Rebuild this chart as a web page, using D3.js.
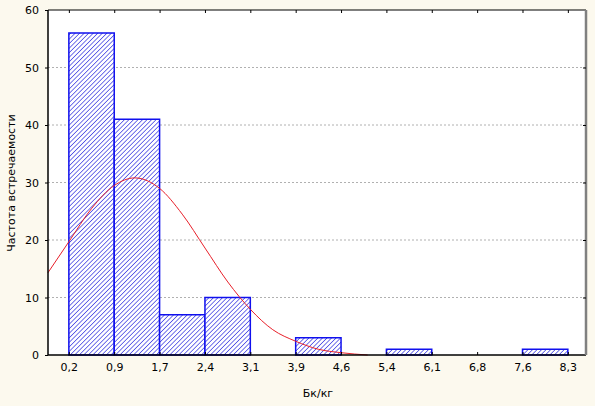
<!DOCTYPE html>
<html>
<head>
<meta charset="utf-8">
<script src="https://cdn.jsdelivr.net/npm/d3@7"></script>
<style>
  body { margin: 0; background: #fcf9ee; }
  text { font-family: "DejaVu Sans", sans-serif; font-size: 11px; fill: #000; }
</style>
</head>
<body>
<div id="chart"></div>
<script>
// bin edge labels (as printed on the x axis)
const edgeLabels = ["0,2", "0,9", "1,7", "2,4", "3,1", "3,9", "4,6", "5,4", "6,1", "6,8", "7,6", "8,3"];
// counts per bin (between consecutive edges)
const counts = [56, 41, 7, 10, 0, 3, 0, 1, 0, 0, 1];
// fitted normal curve: [Bq/kg, frequency]
const curveX = [-0.14, 0.2, 0.57, 0.94, 1.27, 1.67, 2.04, 2.41, 2.78, 3.15, 3.51, 3.88, 4.25, 4.62, 5.05];
const curveY = [14.3, 19.7, 25.5, 29.5, 30.8, 29.0, 24.5, 18.6, 12.7, 7.9, 4.4, 2.4, 1.0, 0.4, 0.0];
const yTicks = [0, 10, 20, 30, 40, 50, 60];

const binStart = 0.2, binWidth = (8.3 - 0.2) / 11;
const edges = edgeLabels.map((d, i) => binStart + i * binWidth);

const W = 595, H = 406;
const margin = { top: 10, right: 9, bottom: 51, left: 48 };
const width = W - margin.left - margin.right;
const height = H - margin.top - margin.bottom;

const svg = d3.select("#chart").append("svg")
    .attr("width", W).attr("height", H);

const defs = svg.append("defs");
const pat = defs.append("pattern")
    .attr("id", "hatch")
    .attr("patternUnits", "userSpaceOnUse")
    .attr("width", 3.2).attr("height", 3.2)
    .attr("patternTransform", "rotate(45)");
pat.append("rect").attr("width", 3.2).attr("height", 3.2).attr("fill", "#fff");
pat.append("line").attr("x1", 0).attr("y1", 0).attr("x2", 0).attr("y2", 3.2)
    .attr("stroke", "#2a2ae0").attr("stroke-width", 1.3);

const g = svg.append("g").attr("transform", `translate(${margin.left},${margin.top})`);

const x = d3.scaleLinear()
    .domain([binStart - 0.46 * binWidth, 8.3 + 0.4 * binWidth])
    .range([0, width]);
const y = d3.scaleLinear().domain([0, 60]).range([height, 0]);

g.append("rect").attr("width", width).attr("height", height).attr("fill", "#fff");

// grid lines
g.selectAll(".grid").data(yTicks.filter(d => d > 0 && d < 60)).join("line")
    .attr("x1", 0).attr("x2", width)
    .attr("y1", d => y(d)).attr("y2", d => y(d))
    .attr("stroke", "#b0b0b0").attr("stroke-dasharray", "2,2");

// bars
const bins = counts.map((c, i) => ({ x0: edges[i], x1: edges[i + 1], c }));
g.selectAll(".bar").data(bins.filter(d => d.c > 0)).join("rect")
    .attr("x", d => x(d.x0))
    .attr("y", d => y(d.c))
    .attr("width", d => x(d.x1) - x(d.x0))
    .attr("height", d => y(0) - y(d.c))
    .attr("fill", "url(#hatch)")
    .attr("stroke", "#1010ee").attr("stroke-width", 1.5);

// normal curve
const pts = curveX.map((v, i) => [v, curveY[i]]);
g.append("path").datum(pts)
    .attr("fill", "none").attr("stroke", "#e8202a").attr("stroke-width", 1)
    .attr("d", d3.line().x(d => x(d[0])).y(d => y(d[1])).curve(d3.curveMonotoneX));

// frame
g.append("line").attr("x1", 0).attr("x2", width).attr("y1", 0).attr("y2", 0).attr("stroke", "#000");
g.append("line").attr("x1", 0).attr("x2", width).attr("y1", height).attr("y2", height).attr("stroke", "#000").attr("stroke-width", 1.5);
g.append("line").attr("x1", 0).attr("x2", 0).attr("y1", 0).attr("y2", height).attr("stroke", "#000").attr("stroke-width", 1.5);
g.append("line").attr("x1", width).attr("x2", width).attr("y1", 0).attr("y2", height).attr("stroke", "#808080").attr("stroke-width", 2.5);

// axes
const yAxis = g.append("g").call(d3.axisLeft(y).tickValues(yTicks).tickSize(3).tickPadding(6));
yAxis.select(".domain").remove();
const yRight = g.append("g").attr("transform", `translate(${width},0)`)
    .call(d3.axisLeft(y).tickValues(yTicks.slice(1, 6)).tickSize(3).tickFormat(""));
yRight.select(".domain").remove();

const xAxis = g.append("g").attr("transform", `translate(0,${height})`)
    .call(d3.axisBottom(x).tickValues(edges).tickSize(0).tickPadding(8)
        .tickFormat((d, i) => edgeLabels[i]));
xAxis.select(".domain").remove();
const xIn = g.append("g").attr("transform", `translate(0,${height})`)
    .call(d3.axisTop(x).tickValues(edges).tickSize(3).tickFormat(""));
xIn.select(".domain").remove();
const xTop = g.append("g")
    .call(d3.axisBottom(x).tickValues(edges).tickSize(3).tickFormat(""));
xTop.select(".domain").remove();

g.selectAll(".tick text").style("font-family", "'DejaVu Sans', sans-serif").style("font-size", "11px");

// titles
svg.append("text")
    .attr("transform", `translate(15,${183}) rotate(-90)`)
    .attr("text-anchor", "middle")
    .text("Частота встречаемости");
svg.append("text")
    .attr("x", 318).attr("y", 397)
    .attr("text-anchor", "middle")
    .text("Бк/кг");
</script>
</body>
</html>
